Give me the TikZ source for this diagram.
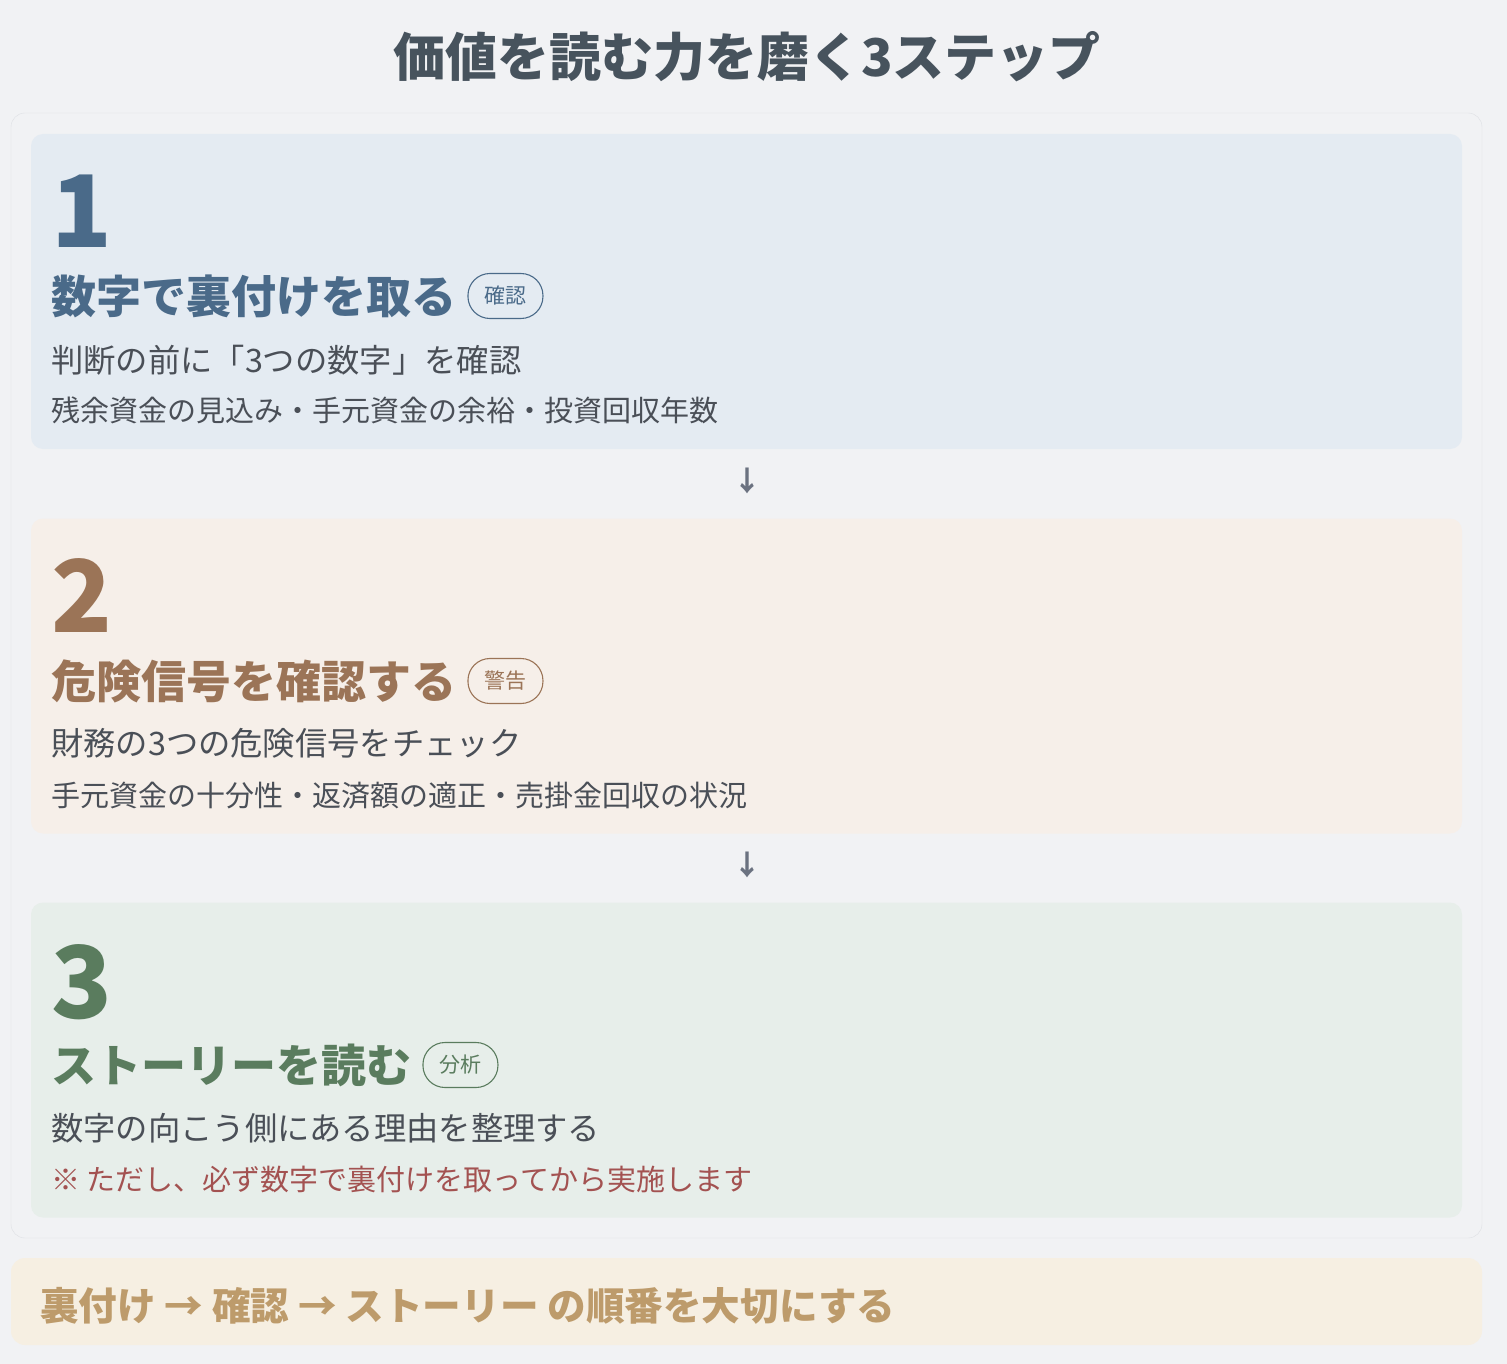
\documentclass[tikz,border=0pt]{standalone}
\usepackage{fontspec}
\setmainfont{Noto Sans CJK JP}
\usepackage{xcolor}
\usetikzlibrary{positioning}
\definecolor{colorBg}{HTML}{F1F2F4}
\definecolor{colorFrame}{HTML}{DEE0E4}
\definecolor{colorTitle}{HTML}{47535D}
\definecolor{colorText}{HTML}{4A4F57}
\definecolor{colorArrow}{HTML}{6B7280}
\definecolor{colorA}{HTML}{4A6A89}
\definecolor{colorCardA}{HTML}{E4EBF2}
\definecolor{colorB}{HTML}{9B7457}
\definecolor{colorCardB}{HTML}{F6EFE9}
\definecolor{colorC}{HTML}{5A7C5E}
\definecolor{colorCardC}{HTML}{E7EEEA}
\definecolor{colorNote}{HTML}{A35251}
\definecolor{colorBanner}{HTML}{F6EFE2}
\definecolor{colorBannerText}{HTML}{BD9B6B}

\begin{document}
\begin{tikzpicture}[x=1pt,y=-1pt,card/.style={rounded corners=12pt,minimum width=1431pt,minimum height=315pt,inner sep=0},num/.style={anchor=base west,inner sep=0,font=\bfseries\fontsize{100}{104}\selectfont},head/.style={anchor=base west,inner sep=0,font=\bfseries\fontsize{45}{50}\selectfont},badge/.style={draw,line width=1.1pt,rounded corners=22pt,minimum width=75pt,minimum height=45pt,inner sep=0,anchor=west,font=\fontsize{21}{24}\selectfont},lead/.style={anchor=base west,inner sep=0,text=colorText,font=\fontsize{32.3}{36}\selectfont},sub/.style={anchor=base west,inner sep=0,text=colorText,font=\fontsize{29}{32}\selectfont},down/.style={inner sep=0,text=colorArrow,font=\bfseries\fontsize{28}{30}\selectfont}]
    \useasboundingbox (0,0) rectangle (1507,1364);
    \fill[colorBg] (0,0) rectangle (1507,1364);
    \node [anchor=base, text=colorTitle, font=\bfseries\fontsize{52}{60}\selectfont] (title) at (747,77) {価値を読む力を磨く3ステップ};
    \draw[colorFrame, fill=colorBg, rounded corners=14pt] (11,113) rectangle (1482,1238);

    \node [card, fill=colorCardA] (c1) at (746.5,291.5) {};
    \node [num, text=colorA] (n1) at (51,248) {1};
    \node [head, text=colorA] (h1) at (51,313) {数字で裏付けを取る};
    \node [badge, draw=colorA, text=colorA] (b1) at ([xshift=11pt,yshift=17pt]h1.base east) {確認};
    \node [lead] (l1) at (51,372) {判断の前に「3つの数字」を確認};
    \node [sub] (s1) at (51,421) {残余資金の見込み・手元資金の余裕・投資回収年数};

    \node [down] (a12) at (747,481) {↓};

    \node [card, fill=colorCardB] (c2) at (746.5,676) {};
    \node [num, text=colorB] (n2) at (51,632) {2};
    \node [head, text=colorB] (h2) at (51,698) {危険信号を確認する};
    \node [badge, draw=colorB, text=colorB] (b2) at ([xshift=11pt,yshift=17pt]h2.base east) {警告};
    \node [lead] (l2) at (51,755) {財務の3つの危険信号をチェック};
    \node [sub] (s2) at (51,806) {手元資金の十分性・返済額の適正・売掛金回収の状況};

    \node [down] (a23) at (747,865) {↓};

    \node [card, fill=colorCardC] (c3) at (746.5,1060) {};
    \node [num, text=colorC] (n3) at (51,1018) {3};
    \node [head, text=colorC] (h3) at (51,1082) {ストーリーを読む};
    \node [badge, draw=colorC, text=colorC] (b3) at ([xshift=11pt,yshift=17pt]h3.base east) {分析};
    \node [lead] (l3) at (51,1140) {数字の向こう側にある理由を整理する};
    \node [sub, text=colorNote] (s3) at (51,1190) {※ ただし、必ず数字で裏付けを取ってから実施します};

    \fill[colorBanner, rounded corners=14pt] (11,1258) rectangle (1482,1345);
    \node [anchor=base west, inner sep=0, text=colorBannerText, font=\bfseries\fontsize{38.6}{42}\selectfont] (rule) at (40,1320) {裏付け → 確認 → ストーリー の順番を大切にする};
\end{tikzpicture}
\end{document}
